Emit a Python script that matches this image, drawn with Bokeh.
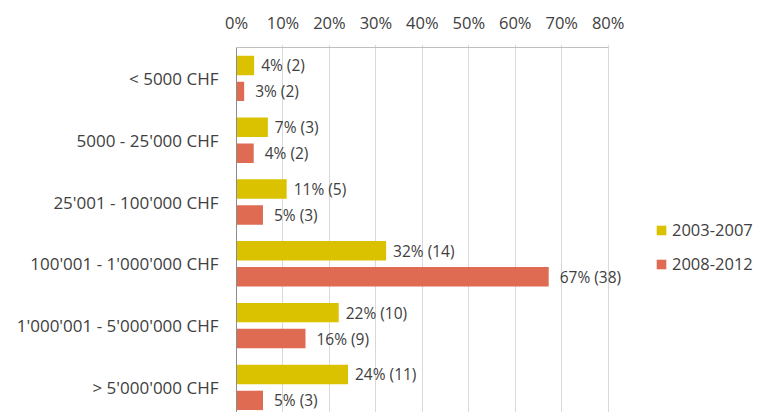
from bokeh.plotting import figure
from bokeh.models import (Range1d, FixedTicker, ColumnDataSource, LabelSet,
                          Legend, LegendItem)
from bokeh.core.properties import value
from bokeh.transform import dodge
from bokeh.embed import file_html
from bokeh.resources import INLINE

categories = ["< 5000 CHF", "5000 - 25'000 CHF", "25'001 - 100'000 CHF",
              "100'001 - 1'000'000 CHF", "1'000'001 - 5'000'000 CHF",
              "> 5'000'000 CHF"]
series_names = ["2003-2007", "2008-2012"]
share_2003_2007 = [3.8, 6.75, 10.8, 32.2, 22.0, 24.0]
share_2008_2012 = [1.65, 3.7, 5.7, 67.2, 14.85, 5.7]
labels_2003_2007 = ["4% (2)", "7% (3)", "11% (5)", "32% (14)", "22% (10)", "24% (11)"]
labels_2008_2012 = ["3% (2)", "4% (2)", "5% (3)", "67% (38)", "16% (9)", "5% (3)"]
x_ticks = [0, 10, 20, 30, 40, 50, 60, 70, 80]
x_tick_labels = ["0%", "10%", "20%", "30%", "40%", "50%", "60%", "70%", "80%"]

colors = ["#DBC200", "#E06B53"]
FONT = "Open Sans"
TXT = "#404040"

idx = list(range(len(categories)))
src_a = ColumnDataSource(dict(i=idx, v=share_2003_2007, lab=labels_2003_2007))
src_b = ColumnDataSource(dict(i=idx, v=share_2008_2012, lab=labels_2008_2012))

W, H = 759, 412
LEFT, TOP = 236, 44
PX_PER_PCT = 4.646
PX_PER_CAT = 61.8
x_end = (W - LEFT) / PX_PER_PCT
cat_top = -0.5                              # upper edge of first category band
y_end = cat_top - 3.0 / PX_PER_CAT          # a few px of headroom above it
y_start = y_end + (H - TOP) / PX_PER_CAT

p = figure(width=W, height=H, x_range=Range1d(0, x_end),
           y_range=Range1d(y_start, y_end), output_backend="svg",
           toolbar_location=None, x_axis_location="above",
           min_border_left=LEFT, min_border_top=TOP, min_border_right=0,
           min_border_bottom=0)
p.outline_line_color = None
p.background_fill_color = "white"

p.xgrid.grid_line_color = "#D9D9D9"
p.xgrid.bounds = (cat_top, y_start)
p.ygrid.visible = False

# plot-area top border spanning the tick range only
p.segment(x0=[x_ticks[0]], x1=[x_ticks[-1]], y0=[cat_top], y1=[cat_top],
          line_color="#BFBFBF", line_width=1.2)

off = 0.21
bh = 0.315
ra = p.hbar(y=dodge("i", -off, range=p.y_range), right="v", left=0, height=bh,
            source=src_a, fill_color=colors[0], line_color=None)
rb = p.hbar(y=dodge("i", off, range=p.y_range), right="v", left=0, height=bh,
            source=src_b, fill_color=colors[1], line_color=None)

for src, d, xo in ((src_a, -off, 7), (src_b, off, 11)):
    ls = LabelSet(x="v", y=dodge("i", d, range=p.y_range), text="lab", source=src,
                  x_offset=xo, text_font=value(FONT), text_font_size="15.5px",
                  text_color=TXT, text_baseline="middle", text_align="left")
    p.add_layout(ls)

# x axis (top)
xa = p.xaxis[0]
xa.ticker = FixedTicker(ticks=x_ticks)
xa.major_label_overrides = {t: l for t, l in zip(x_ticks, x_tick_labels)}
xa.major_tick_line_color = None
xa.minor_tick_line_color = None
xa.major_tick_out = 0
xa.major_label_standoff = 11
xa.axis_line_color = None
xa.major_label_text_font = FONT
xa.major_label_text_font_size = "16.5px"
xa.major_label_text_color = TXT

# y axis (left)
ya = p.yaxis[0]
ya.ticker = FixedTicker(ticks=idx)
ya.bounds = (cat_top, y_start)
ya.major_label_overrides = {i: c for i, c in zip(idx, categories)}
ya.major_tick_line_color = None
ya.minor_tick_line_color = None
ya.major_tick_out = 0
ya.major_label_standoff = 18
ya.axis_line_color = "#8C8C8C"
ya.major_label_text_font = FONT
ya.major_label_text_font_size = "17px"
ya.major_label_text_color = TXT

legend = Legend(items=[LegendItem(label=series_names[0], renderers=[ra]),
                       LegendItem(label=series_names[1], renderers=[rb])],
                location=(419, 137), orientation="vertical")
legend.border_line_color = None
legend.background_fill_alpha = 0
legend.padding = 0
legend.margin = 0
legend.glyph_width = 12
legend.glyph_height = 12
legend.label_standoff = 5
legend.spacing = 11
legend.label_text_font = FONT
legend.label_text_font_size = "16.5px"
legend.label_text_color = TXT
p.add_layout(legend, "center")

open("out.html", "w").write(file_html(p, INLINE))
